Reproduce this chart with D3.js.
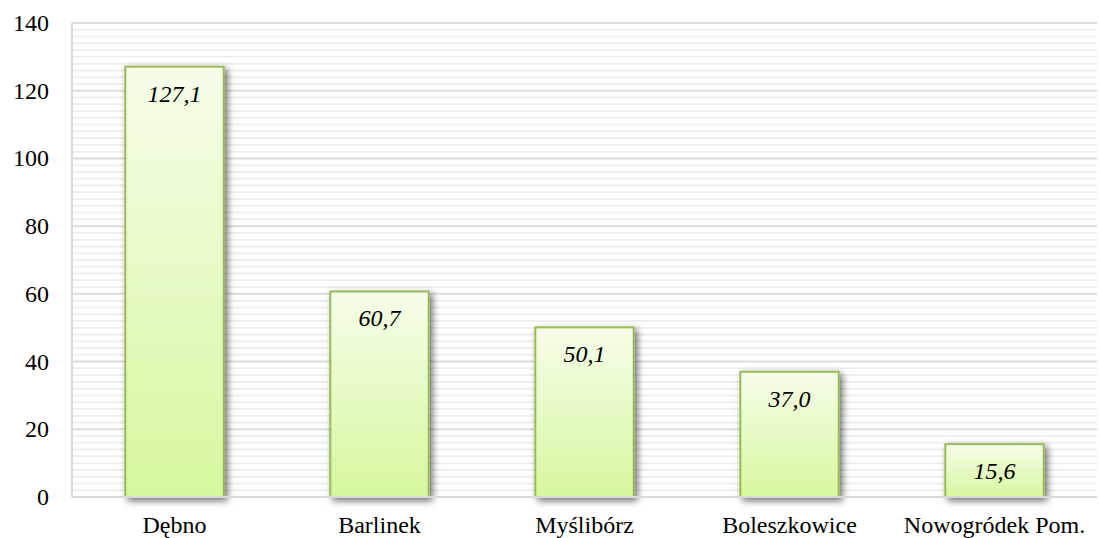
<!DOCTYPE html>
<html>
<head>
<meta charset="utf-8">
<script src="https://cdn.jsdelivr.net/npm/d3@7"></script>
<style>
  body { margin: 0; background: #fff; }
  svg text { font-family: "Liberation Serif", serif; fill: #000; }
</style>
</head>
<body>
<div id="chart"></div>
<script>
var categories = ['Dębno', 'Barlinek', 'Myślibórz', 'Boleszkowice', 'Nowogródek Pom.'];
var values = [127.1, 60.7, 50.1, 37.0, 15.6];
var yTicks = [0, 20, 40, 60, 80, 100, 120, 140];

var W = 1099, H = 538;
var m = { left: 72, right: 2, top: 23, bottom: 41 };

var svg = d3.select('#chart').append('svg')
  .attr('width', W)
  .attr('height', H);

var defs = svg.append('defs');
var grad = defs.append('linearGradient')
  .attr('id', 'barFill')
  .attr('x1', 0).attr('y1', 0).attr('x2', 0).attr('y2', 1);
grad.append('stop').attr('offset', '0%').attr('stop-color', '#f5fde9');
grad.append('stop').attr('offset', '100%').attr('stop-color', '#d7f79e');

var shadow = defs.append('filter')
  .attr('id', 'shadow')
  .attr('x', '-20%').attr('y', '-20%')
  .attr('width', '150%').attr('height', '150%');
shadow.append('feDropShadow')
  .attr('dx', 3).attr('dy', 3)
  .attr('stdDeviation', 3.5)
  .attr('flood-color', '#000')
  .attr('flood-opacity', 0.55);

var x = d3.scaleBand()
  .domain(categories)
  .range([m.left, W - m.right])
  .paddingInner(0.52)
  .paddingOuter(0.26);

var y = d3.scaleLinear()
  .domain([0, 140])
  .range([H - m.bottom, m.top]);

// minor grid
svg.append('g')
  .selectAll('line')
  .data(d3.range(2, 140, 2).filter(function(d) { return d % 20 !== 0; }))
  .enter()
  .append('line')
  .attr('x1', m.left)
  .attr('x2', W - m.right)
  .attr('y1', function(d) { return y(d); })
  .attr('y2', function(d) { return y(d); })
  .attr('stroke', '#efefef')
  .attr('stroke-width', 2);

// major grid
svg.append('g')
  .selectAll('line')
  .data(yTicks.slice(1))
  .enter()
  .append('line')
  .attr('x1', m.left)
  .attr('x2', W - m.right)
  .attr('y1', function(d) { return y(d); })
  .attr('y2', function(d) { return y(d); })
  .attr('stroke', '#dcdcdc')
  .attr('stroke-width', 2);

// axis lines
svg.append('line')
  .attr('x1', m.left).attr('x2', m.left)
  .attr('y1', y(140)).attr('y2', y(0))
  .attr('stroke', '#d9d9d9').attr('stroke-width', 2);

svg.selectAll('rect.bar')
  .data(values)
  .enter()
  .append('rect')
  .attr('class', 'bar')
  .attr('x', function(d, i) { return x(categories[i]); })
  .attr('y', function(d) { return y(d); })
  .attr('width', x.bandwidth())
  .attr('height', function(d) { return y(0) - y(d); })
  .attr('fill', 'url(#barFill)')
  .attr('stroke', '#9bbb59')
  .attr('stroke-width', 2)
  .attr('filter', 'url(#shadow)');

svg.append('line')
  .attr('x1', m.left).attr('x2', W - m.right)
  .attr('y1', y(0)).attr('y2', y(0))
  .attr('stroke', '#d9d9d9').attr('stroke-width', 2);

svg.selectAll('text.val')
  .data(values)
  .enter()
  .append('text')
  .attr('class', 'val')
  .attr('x', function(d, i) { return x(categories[i]) + x.bandwidth() / 2; })
  .attr('y', function(d) { return y(d) + 35; })
  .attr('text-anchor', 'middle')
  .attr('font-size', '24px')
  .attr('font-style', 'italic')
  .text(function(d) { return d.toFixed(1).replace('.', ','); });

svg.selectAll('text.ytick')
  .data(yTicks)
  .enter()
  .append('text')
  .attr('class', 'ytick')
  .attr('x', 49)
  .attr('y', function(d) { return y(d) + 8; })
  .attr('text-anchor', 'end')
  .attr('font-size', '24px')
  .text(function(d) { return d; });

svg.selectAll('text.xcat')
  .data(categories)
  .enter()
  .append('text')
  .attr('class', 'xcat')
  .attr('x', function(d) { return x(d) + x.bandwidth() / 2; })
  .attr('y', 533)
  .attr('text-anchor', 'middle')
  .attr('font-size', '24px')
  .text(function(d) { return d; });
</script>
</body>
</html>
